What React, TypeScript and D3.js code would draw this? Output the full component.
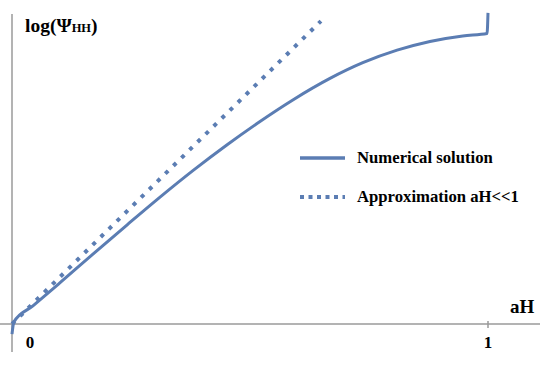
import React, { useEffect, useRef } from 'react';
import * as d3 from 'd3';

// numerical solution (aH, log Psi_HH in arbitrary units)
const numX = [0, 0.004, 0.044, 0.101, 0.17, 0.242, 0.311, 0.38, 0.452, 0.521, 0.59, 0.668, 0.737, 0.809, 0.878, 0.947, 0.998, 1.0];
const numY = [-0.035, 0.007, 0.062, 0.142, 0.24, 0.341, 0.436, 0.527, 0.616, 0.696, 0.77, 0.844, 0.898, 0.941, 0.971, 0.99, 0.998, 1.069];

// approximation aH<<1 (straight line)
const approxX = [0, 0.649];
const approxY = [0, 1.041];

const xTicks = [0, 1];
const legendLabels = ['Numerical solution', 'Approximation aH<<1'];

const blue = '#5b7db3';
const axisGray = '#9a9a9a';
const font = '"Liberation Serif", serif';

function App() {
  const ref = useRef(null);

  useEffect(() => {
    const svg = d3.select(ref.current);
    svg.selectAll('*').remove();

    const x = d3.scaleLinear().domain([0, 1]).range([12, 488]);
    const y = d3.scaleLinear().domain([0, 1]).range([324, 33]);

    // axes
    svg.append('line')
      .attr('x1', x(0)).attr('x2', x(0))
      .attr('y1', 14).attr('y2', 352)
      .attr('stroke', axisGray).attr('stroke-width', 1.5);
    svg.append('line')
      .attr('x1', 0).attr('x2', 540)
      .attr('y1', y(0)).attr('y2', y(0))
      .attr('stroke', axisGray).attr('stroke-width', 1.5);

    svg.selectAll('.tick')
      .data(xTicks.filter(d => d !== 0))
      .join('line')
      .attr('x1', d => x(d)).attr('x2', d => x(d))
      .attr('y1', y(0) - 3).attr('y2', y(0) + 4)
      .attr('stroke', axisGray).attr('stroke-width', 1.5);

    svg.selectAll('.ticklabel')
      .data(xTicks)
      .join('text')
      .attr('x', d => (d === 0 ? x(d) + 18 : x(d)))
      .attr('y', 348)
      .attr('text-anchor', 'middle')
      .attr('font-family', font)
      .attr('font-weight', 'bold')
      .attr('font-size', 17)
      .text(d => d);

    svg.append('text')
      .attr('x', 510).attr('y', 313)
      .attr('font-family', font).attr('font-weight', 'bold').attr('font-size', 19)
      .text('aH');

    const yl = svg.append('text')
      .attr('x', 25).attr('y', 32)
      .attr('font-family', font).attr('font-weight', 'bold').attr('font-size', 19.5);
    yl.append('tspan').text('log(Ψ');
    yl.append('tspan').attr('font-size', 12.5).text('HH');
    yl.append('tspan').text(')');

    // curves
    const numData = numX.map((v, i) => [v, numY[i]]);
    const approxData = approxX.map((v, i) => [v, approxY[i]]);

    const line = d3.line()
      .x(d => x(d[0]))
      .y(d => y(d[1]))
      .curve(d3.curveMonotoneX);

    svg.append('path')
      .attr('d', d3.line().x(d => x(d[0])).y(d => y(d[1]))(approxData))
      .attr('fill', 'none')
      .attr('stroke', blue)
      .attr('stroke-width', 4)
      .attr('stroke-dasharray', '4 7.3');

    svg.append('path')
      .attr('d', line(numData))
      .attr('fill', 'none')
      .attr('stroke', blue)
      .attr('stroke-width', 3)
      .attr('stroke-linejoin', 'round');

    // legend
    const lg = svg.append('g');
    legendLabels.forEach((lab, i) => {
      const ly = 158 + i * 39;
      lg.append('line')
        .attr('x1', 300).attr('x2', 345)
        .attr('y1', ly).attr('y2', ly)
        .attr('stroke', blue)
        .attr('stroke-width', i === 0 ? 3.5 : 4)
        .attr('stroke-dasharray', i === 0 ? null : '4 4.5');
      lg.append('text')
        .attr('x', 357).attr('y', ly + 5)
        .attr('font-family', font).attr('font-weight', 'bold').attr('font-size', 16.7)
        .text(lab);
    });
  }, []);

  return (
    <svg ref={ref} width={553} height={366}
      style={{ position: 'absolute', left: 0, top: 0, background: '#fff' }} />
  );
}

export default App;
